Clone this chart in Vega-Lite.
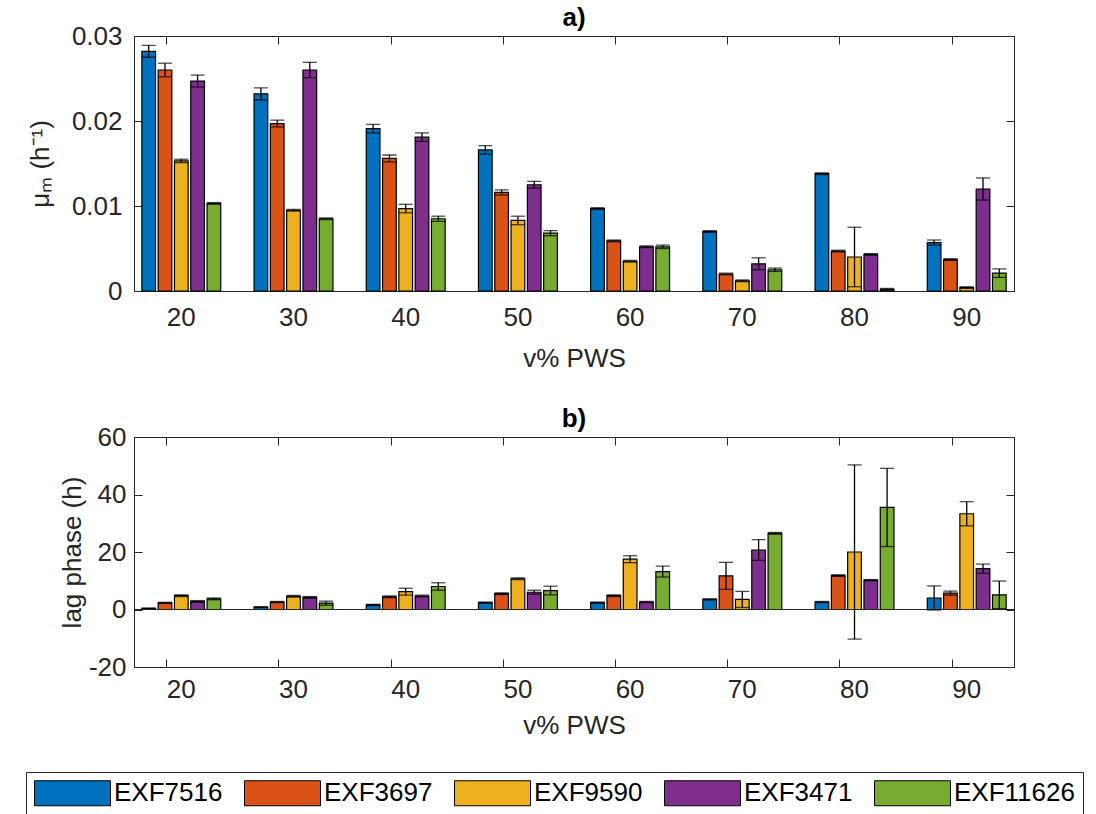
{
  "$schema": "https://vega.github.io/schema/vega-lite/v6.json",
  "padding": {"left": 25, "top": 4, "right": 5, "bottom": 5},
  "background": "white",
  "datasets": {
    "mu": [
      {"pws": 20, "strain": "EXF7516", "mean": 0.0282, "err": 0.0007},
      {"pws": 20, "strain": "EXF3697", "mean": 0.0260, "err": 0.0008},
      {"pws": 20, "strain": "EXF9590", "mean": 0.0153, "err": 0.0002},
      {"pws": 20, "strain": "EXF3471", "mean": 0.0247, "err": 0.0007},
      {"pws": 20, "strain": "EXF11626", "mean": 0.0103, "err": 0.0001},
      {"pws": 30, "strain": "EXF7516", "mean": 0.0232, "err": 0.0007},
      {"pws": 30, "strain": "EXF3697", "mean": 0.0197, "err": 0.0004},
      {"pws": 30, "strain": "EXF9590", "mean": 0.0095, "err": 0.0001},
      {"pws": 30, "strain": "EXF3471", "mean": 0.0260, "err": 0.0009},
      {"pws": 30, "strain": "EXF11626", "mean": 0.0085, "err": 0.0001},
      {"pws": 40, "strain": "EXF7516", "mean": 0.0191, "err": 0.0005},
      {"pws": 40, "strain": "EXF3697", "mean": 0.0156, "err": 0.0004},
      {"pws": 40, "strain": "EXF9590", "mean": 0.0097, "err": 0.0005},
      {"pws": 40, "strain": "EXF3471", "mean": 0.0181, "err": 0.0005},
      {"pws": 40, "strain": "EXF11626", "mean": 0.0085, "err": 0.0003},
      {"pws": 50, "strain": "EXF7516", "mean": 0.0166, "err": 0.0005},
      {"pws": 50, "strain": "EXF3697", "mean": 0.0116, "err": 0.0003},
      {"pws": 50, "strain": "EXF9590", "mean": 0.0083, "err": 0.0005},
      {"pws": 50, "strain": "EXF3471", "mean": 0.0125, "err": 0.0004},
      {"pws": 50, "strain": "EXF11626", "mean": 0.0068, "err": 0.0003},
      {"pws": 60, "strain": "EXF7516", "mean": 0.0097, "err": 0.0001},
      {"pws": 60, "strain": "EXF3697", "mean": 0.0059, "err": 0.0001},
      {"pws": 60, "strain": "EXF9590", "mean": 0.0035, "err": 0.0001},
      {"pws": 60, "strain": "EXF3471", "mean": 0.0052, "err": 0.0001},
      {"pws": 60, "strain": "EXF11626", "mean": 0.0052, "err": 0.0002},
      {"pws": 70, "strain": "EXF7516", "mean": 0.0070, "err": 0.0001},
      {"pws": 70, "strain": "EXF3697", "mean": 0.0020, "err": 0.0001},
      {"pws": 70, "strain": "EXF9590", "mean": 0.0012, "err": 0.0001},
      {"pws": 70, "strain": "EXF3471", "mean": 0.0032, "err": 0.0007},
      {"pws": 70, "strain": "EXF11626", "mean": 0.0025, "err": 0.0002},
      {"pws": 80, "strain": "EXF7516", "mean": 0.0138, "err": 0.0001},
      {"pws": 80, "strain": "EXF3697", "mean": 0.0047, "err": 0.0001},
      {"pws": 80, "strain": "EXF9590", "mean": 0.0040, "err": 0.0035},
      {"pws": 80, "strain": "EXF3471", "mean": 0.0043, "err": 0.0001},
      {"pws": 80, "strain": "EXF11626", "mean": 0.0002, "err": 0.0001},
      {"pws": 90, "strain": "EXF7516", "mean": 0.0057, "err": 0.0003},
      {"pws": 90, "strain": "EXF3697", "mean": 0.0037, "err": 0.0001},
      {"pws": 90, "strain": "EXF9590", "mean": 0.0004, "err": 0.0001},
      {"pws": 90, "strain": "EXF3471", "mean": 0.0120, "err": 0.0013},
      {"pws": 90, "strain": "EXF11626", "mean": 0.0021, "err": 0.0005}
    ],
    "lag": [
      {"pws": 20, "strain": "EXF7516", "mean": 0.4, "err": 0.1},
      {"pws": 20, "strain": "EXF3697", "mean": 2.3, "err": 0.2},
      {"pws": 20, "strain": "EXF9590", "mean": 4.8, "err": 0.3},
      {"pws": 20, "strain": "EXF3471", "mean": 2.8, "err": 0.3},
      {"pws": 20, "strain": "EXF11626", "mean": 3.7, "err": 0.3},
      {"pws": 30, "strain": "EXF7516", "mean": 0.8, "err": 0.1},
      {"pws": 30, "strain": "EXF3697", "mean": 2.6, "err": 0.2},
      {"pws": 30, "strain": "EXF9590", "mean": 4.6, "err": 0.3},
      {"pws": 30, "strain": "EXF3471", "mean": 4.2, "err": 0.3},
      {"pws": 30, "strain": "EXF11626", "mean": 2.2, "err": 0.7},
      {"pws": 40, "strain": "EXF7516", "mean": 1.6, "err": 0.2},
      {"pws": 40, "strain": "EXF3697", "mean": 4.4, "err": 0.3},
      {"pws": 40, "strain": "EXF9590", "mean": 6.2, "err": 1.2},
      {"pws": 40, "strain": "EXF3471", "mean": 4.7, "err": 0.3},
      {"pws": 40, "strain": "EXF11626", "mean": 8.0, "err": 1.3},
      {"pws": 50, "strain": "EXF7516", "mean": 2.4, "err": 0.2},
      {"pws": 50, "strain": "EXF3697", "mean": 5.5, "err": 0.3},
      {"pws": 50, "strain": "EXF9590", "mean": 10.7, "err": 0.3},
      {"pws": 50, "strain": "EXF3471", "mean": 6.0, "err": 0.7},
      {"pws": 50, "strain": "EXF11626", "mean": 6.6, "err": 1.5},
      {"pws": 60, "strain": "EXF7516", "mean": 2.4, "err": 0.2},
      {"pws": 60, "strain": "EXF3697", "mean": 4.8, "err": 0.3},
      {"pws": 60, "strain": "EXF9590", "mean": 17.5, "err": 1.2},
      {"pws": 60, "strain": "EXF3471", "mean": 2.6, "err": 0.2},
      {"pws": 60, "strain": "EXF11626", "mean": 13.2, "err": 1.9},
      {"pws": 70, "strain": "EXF7516", "mean": 3.5, "err": 0.2},
      {"pws": 70, "strain": "EXF3697", "mean": 11.7, "err": 4.7},
      {"pws": 70, "strain": "EXF9590", "mean": 3.5, "err": 2.8},
      {"pws": 70, "strain": "EXF3471", "mean": 20.7, "err": 3.6},
      {"pws": 70, "strain": "EXF11626", "mean": 26.5, "err": 0.3},
      {"pws": 80, "strain": "EXF7516", "mean": 2.6, "err": 0.2},
      {"pws": 80, "strain": "EXF3697", "mean": 11.8, "err": 0.3},
      {"pws": 80, "strain": "EXF9590", "mean": 20.0, "err": 30.3},
      {"pws": 80, "strain": "EXF3471", "mean": 10.2, "err": 0.2},
      {"pws": 80, "strain": "EXF11626", "mean": 35.5, "err": 13.6},
      {"pws": 90, "strain": "EXF7516", "mean": 4.0, "err": 4.2},
      {"pws": 90, "strain": "EXF3697", "mean": 5.7, "err": 0.7},
      {"pws": 90, "strain": "EXF9590", "mean": 33.3, "err": 4.2},
      {"pws": 90, "strain": "EXF3471", "mean": 14.2, "err": 1.6},
      {"pws": 90, "strain": "EXF11626", "mean": 5.1, "err": 4.8}
    ]
  },
  "vconcat": [
    {
      "width": 880,
      "height": 255,
      "title": {"text": "a)", "fontSize": 26, "fontWeight": "bold", "font": "Liberation Sans", "color": "black", "offset": -8},
      "data": {"name": "mu"},
      "layer": [
        {
          "mark": {"type": "bar", "stroke": "black", "strokeWidth": 1.2},
          "encoding": {
            "x": {"field": "pws", "type": "ordinal", "scale": {"paddingInner": 0.157, "paddingOuter": 0},
                  "axis": {"bandPosition": 0.3457, "labelAngle": 0, "title": "v% PWS", "labelPadding": 21, "titlePadding": 15}},
            "xOffset": {"field": "strain", "type": "nominal", "scale": {"domain": ["EXF7516", "EXF3697", "EXF9590", "EXF3471", "EXF11626"], "range": [7.85, 86.75], "paddingInner": 0.16, "paddingOuter": 0}},
            "y": {"field": "mean", "type": "quantitative", "stack": null, "scale": {"domain": [0, 0.03], "nice": false},
                  "axis": {"values": [0, 0.01, 0.02, 0.03], "format": ".2~f", "title": "μₘ (h⁻¹)", "labelPadding": 20,
                           "titleX": -94, "titleY": 127.5, "titleAngle": -90, "titleBaseline": "middle", "titleAlign": "center"}},
            "color": {"field": "strain", "type": "nominal",
                      "scale": {"domain": ["EXF7516", "EXF3697", "EXF9590", "EXF3471", "EXF11626"], "range": ["#0072BD", "#D95319", "#EDB120", "#7E2F8E", "#77AC30"]},
                      "legend": {"orient": "none", "legendX": -108, "legendY": 736, "direction": "horizontal", "columns": 5, "title": null}}
          }
        },
        {
          "mark": {"type": "errorbar", "ticks": {"size": 14, "color": "black", "thickness": 1.3}, "color": "black", "thickness": 1.3},
          "encoding": {
            "x": {"field": "pws", "type": "ordinal",
                  "axis": {"orient": "top", "bandPosition": 0.3457, "labels": false, "title": null}},
            "xOffset": {"field": "strain", "type": "nominal"},
            "y": {"field": "mean", "type": "quantitative",
                  "axis": {"orient": "right", "values": [0, 0.01, 0.02, 0.03], "labels": false, "title": null}},
            "yError": {"field": "err"}
          }
        }
      ],
      "resolve": {"axis": {"x": "independent", "y": "independent"}}
    },
    {
      "width": 880,
      "height": 230,
      "title": {"text": "b)", "fontSize": 26, "fontWeight": "bold", "font": "Liberation Sans", "color": "black", "offset": -8},
      "data": {"name": "lag"},
      "layer": [
        {
          "mark": {"type": "bar", "stroke": "black", "strokeWidth": 1.2},
          "encoding": {
            "x": {"field": "pws", "type": "ordinal", "scale": {"paddingInner": 0.157, "paddingOuter": 0},
                  "axis": {"bandPosition": 0.3457, "labelAngle": 0, "title": "v% PWS", "labelPadding": 17, "titlePadding": 10}},
            "xOffset": {"field": "strain", "type": "nominal", "scale": {"domain": ["EXF7516", "EXF3697", "EXF9590", "EXF3471", "EXF11626"], "range": [7.85, 86.75], "paddingInner": 0.16, "paddingOuter": 0}},
            "y": {"field": "mean", "type": "quantitative", "stack": null, "scale": {"domain": [-20, 60], "nice": false},
                  "axis": {"values": [-20, 0, 20, 40, 60], "labelExpr": "replace(datum.label, '−', '-')", "title": "lag phase (h)", "labelPadding": 16,
                           "titleX": -62, "titleY": 115, "titleAngle": -90, "titleBaseline": "middle", "titleAlign": "center"}},
            "color": {"field": "strain", "type": "nominal",
                      "scale": {"domain": ["EXF7516", "EXF3697", "EXF9590", "EXF3471", "EXF11626"], "range": ["#0072BD", "#D95319", "#EDB120", "#7E2F8E", "#77AC30"]},
                      "legend": {"orient": "none", "legendX": -108, "legendY": 736, "direction": "horizontal", "columns": 5, "title": null}}
          }
        },
        {
          "mark": {"type": "rule", "color": "#262626", "strokeWidth": 1.2},
          "encoding": {"y": {"datum": 0, "axis": null}}
        },
        {
          "mark": {"type": "errorbar", "ticks": {"size": 14, "color": "black", "thickness": 1.3}, "color": "black", "thickness": 1.3},
          "encoding": {
            "x": {"field": "pws", "type": "ordinal",
                  "axis": {"orient": "top", "bandPosition": 0.3457, "labels": false, "title": null}},
            "xOffset": {"field": "strain", "type": "nominal"},
            "y": {"field": "mean", "type": "quantitative",
                  "axis": {"orient": "right", "values": [-20, 0, 20, 40, 60], "labels": false, "title": null}},
            "yError": {"field": "err"}
          }
        }
      ],
      "resolve": {"axis": {"x": "independent", "y": "independent"}}
    }
  ],
  "spacing": 33,
  "resolve": {"scale": {"color": "shared", "y": "independent"}, "legend": {"color": "shared"}},
  "config": {
    "font": "Liberation Sans",
    "view": {"stroke": "#262626", "strokeWidth": 1},
    "axis": {
      "labelFont": "Liberation Sans", "labelFontSize": 26, "labelColor": "#262626",
      "titleFont": "Liberation Sans", "titleFontSize": 26, "titleFontWeight": "normal", "titleColor": "#262626",
      "domain": false, "grid": false, "tickColor": "#262626", "tickSize": -8, "tickWidth": 1
    },
    "legend": {
      "symbolType": "M-1,-1H5.08V1H-1Z", "symbolSize": 625, "symbolStrokeColor": "black", "symbolStrokeWidth": 1,
      "symbolOpacity": 1,
      "labelFont": "Liberation Sans", "labelFontSize": 26, "labelColor": "black", "labelOffset": 54,
      "columnPadding": 19, "padding": 8, "strokeColor": "#262626"
    }
  }
}
